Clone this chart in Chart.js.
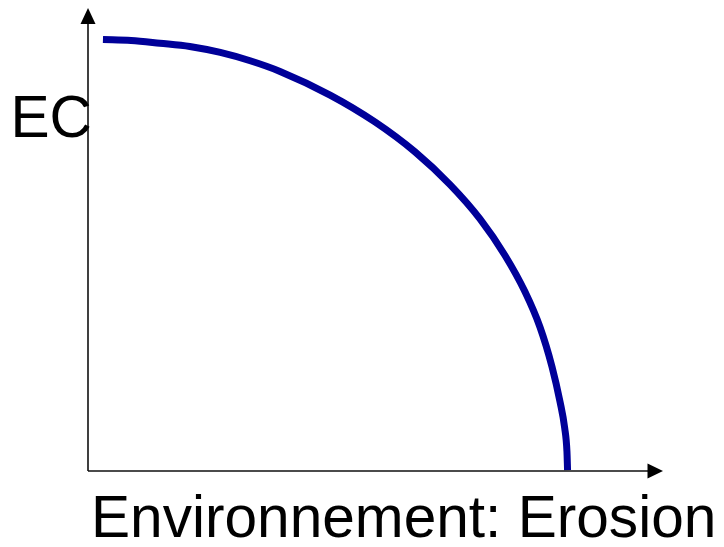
<!DOCTYPE html>
<html>
<head>
<meta charset="utf-8">
<script src="https://cdn.jsdelivr.net/npm/chart.js@4/dist/chart.umd.min.js"></script>
<style>
  html, body { margin: 0; padding: 0; background: #fff; }
  #wrap { width: 724px; height: 547px; }
</style>
</head>
<body>
<div id="wrap"><canvas id="chart_ecErosion" width="724" height="547"></canvas></div>
<script>
// curve (axis units 0..100 on both axes)
var erosion = [2.6, 7.5, 12.5, 17.7, 23.0, 28.2, 33.4, 42.1, 49.9, 56.9, 63.0, 68.2, 72.5, 76.0, 78.6, 80.7, 82.1, 82.9, 83.3, 83.4];
var ec      = [93.2, 93.0, 92.4, 91.7, 90.4, 88.6, 86.3, 81.2, 75.4, 68.9, 61.8, 54.4, 46.6, 38.7, 31.1, 22.5, 14.9, 9.3, 4.1, 0.2];

var xTitle = 'Environnement: Erosion';
var yTitle = 'EC';

var points = erosion.map(function (x, i) { return { x: x, y: ec[i] }; });

var axesPlugin = {
    id: 'arrowAxes',
    afterDatasetsDraw: function (chart) {
        var ctx = chart.ctx;
        var sx = chart.scales.x, sy = chart.scales.y;
        var x0 = sx.getPixelForValue(0), x1 = sx.getPixelForValue(100);
        var y0 = sy.getPixelForValue(0), y1 = sy.getPixelForValue(100);
        ctx.save();
        ctx.strokeStyle = '#111';
        ctx.fillStyle = '#000';
        ctx.lineWidth = 1.6;
        ctx.beginPath();
        ctx.moveTo(x0, y0);
        ctx.lineTo(x1 - 10, y0);
        ctx.moveTo(x0, y0);
        ctx.lineTo(x0, y1 + 10);
        ctx.stroke();
        // arrow heads
        ctx.beginPath();
        ctx.moveTo(x1, y0);
        ctx.lineTo(x1 - 15.5, y0 - 7.5);
        ctx.lineTo(x1 - 15.5, y0 + 7.5);
        ctx.closePath();
        ctx.fill();
        ctx.beginPath();
        ctx.moveTo(x0, y1);
        ctx.lineTo(x0 - 7.5, y1 + 16);
        ctx.lineTo(x0 + 7.5, y1 + 16);
        ctx.closePath();
        ctx.fill();
        // titles
        ctx.font = '58.6px "Liberation Sans", Arial, sans-serif';
        ctx.textBaseline = 'alphabetic';
        ctx.textAlign = 'left';
        ctx.fillText(yTitle, 10.5, 137);
        ctx.fillText(xTitle, x0 + 3, 537);
        ctx.restore();
    }
};

var chart_ecErosion = new Chart(document.getElementById('chart_ecErosion'), {
    type: 'scatter',
    data: {
        datasets: [{
            data: points,
            showLine: true,
            borderColor: '#000099',
            borderWidth: 7,
            pointRadius: 0,
            cubicInterpolationMode: 'monotone',
            clip: false
        }]
    },
    options: {
        animation: false,
        responsive: false,
        layout: { padding: { left: 88, right: 61, top: 8, bottom: 76 } },
        plugins: {
            legend: { display: false },
            tooltip: { enabled: false }
        },
        scales: {
            x: { type: 'linear', min: 0, max: 100, display: false },
            y: { type: 'linear', min: 0, max: 100, display: false }
        }
    },
    plugins: [axesPlugin]
});
</script>
</body>
</html>
